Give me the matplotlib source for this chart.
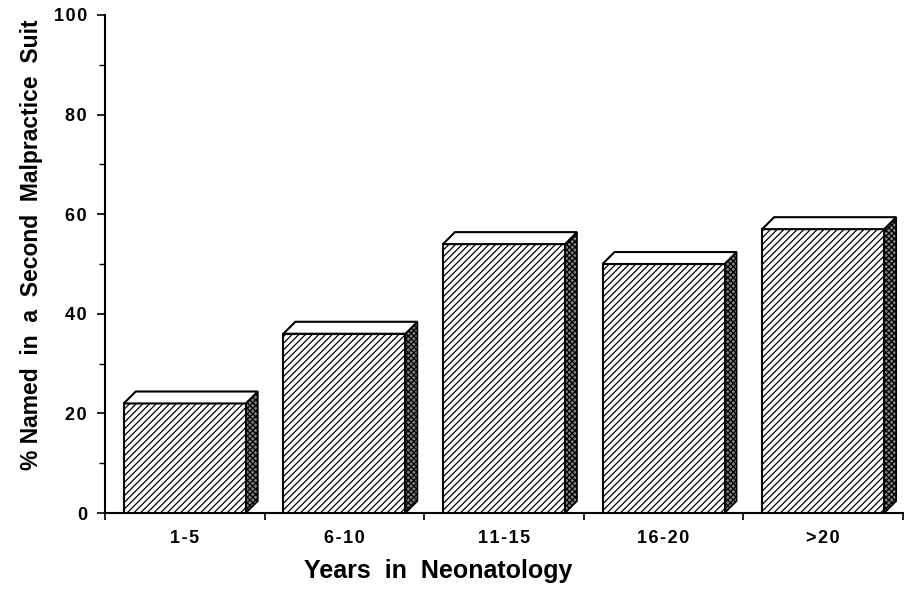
import numpy as np
import matplotlib.pyplot as plt
from matplotlib.patches import Polygon

plt.rcParams['font.family'] = ['Liberation Sans', 'DejaVu Sans']
plt.rcParams['hatch.linewidth'] = 0.9

categories = ['1-5', '6-10', '11-15', '16-20', '>20']
values = [22, 36, 54, 50, 57]
yticks = [0, 20, 40, 60, 80, 100]

fig = plt.figure(figsize=(9.1, 5.92), dpi=100)
ax = fig.add_axes([0.1154, 0.1334, 0.8769, 0.8413])

x = np.arange(len(categories))
w = 0.765
dx = 0.075   # depth offset in x (data units)
dy = 2.4     # depth offset in y (data units)

ax.bar(x, values, width=w, facecolor='white', edgecolor='black',
       hatch='/////', linewidth=1.5, zorder=3)

for xi, v in zip(x, values):
    r = xi + w / 2
    l = xi - w / 2
    # side face
    side = Polygon([(r, 0), (r + dx, dy), (r + dx, v + dy), (r, v)],
                   closed=True, facecolor='#808080', edgecolor='black',
                   hatch='xxxxxx', linewidth=1.2, zorder=2)
    ax.add_patch(side)
    # top face
    top = Polygon([(l, v), (l + dx, v + dy), (r + dx, v + dy), (r, v)],
                  closed=True, facecolor='white', edgecolor='black',
                  linewidth=1.5, zorder=4)
    ax.add_patch(top)

ax.set_xlim(-0.5, 4.5)
ax.set_ylim(0, 100)

for s in ['top', 'right']:
    ax.spines[s].set_visible(False)
for s in ['left', 'bottom']:
    ax.spines[s].set_linewidth(1.5)

hair = '\u200a'
ax.set_yticks(yticks)
ax.set_yticklabels([hair.join(str(t)) for t in yticks], fontweight='bold', fontsize=13)
ax.set_yticks(np.arange(10, 100, 20), minor=True)
ax.tick_params(axis='y', which='major', length=6, width=1.2, pad=7)
ax.tick_params(axis='y', which='minor', length=4, width=1.0)

ax.set_xticks(np.arange(-0.5, 5, 1.0))
ax.set_xticklabels([])
ax.set_xticks(x, minor=True)
ax.set_xticklabels([hair.join(c) for c in categories], minor=True,
                   fontweight='bold', fontsize=13)
ax.tick_params(axis='x', which='major', length=5, width=1.2)
ax.tick_params(axis='x', which='minor', length=0, pad=12)

ax.set_ylabel('% Named  in  a  Second  Malpractice  Suit', fontsize=16.5,
              fontweight='bold')
ax.yaxis.set_label_coords(-0.092, 0.538)
ax.set_xlabel('Years  in  Neonatology', fontsize=18, fontweight='bold')
ax.xaxis.set_label_coords(0.417, -0.117)
ax.xaxis.label.set_verticalalignment('center')
ax.yaxis.label.set_verticalalignment('center')

fig.savefig('out.png', dpi=100)
